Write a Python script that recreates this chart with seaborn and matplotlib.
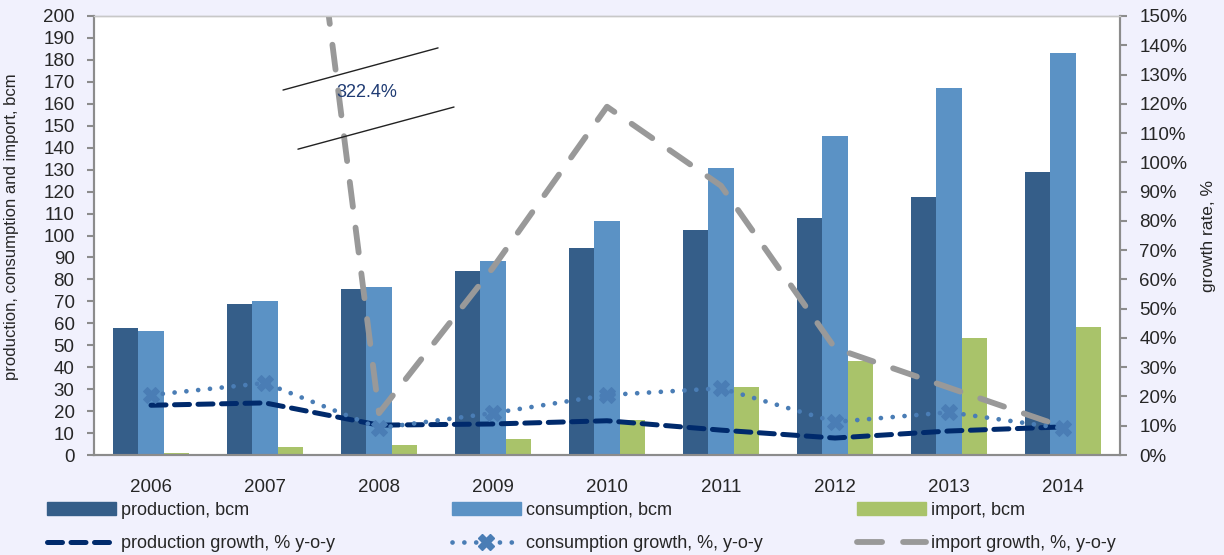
#!/usr/bin/env python3
"""Gas production, consumption and import with y-o-y growth rates, 2006-2014."""
import numpy as np
import pandas as pd
import matplotlib; matplotlib.use('Agg')
import matplotlib.pyplot as plt
from matplotlib.lines import Line2D
from matplotlib.patches import Patch
import seaborn as sns

years = ["2006", "2007", "2008", "2009", "2010", "2011", "2012", "2013", "2014"]
production = [58, 69, 75.5, 83.7, 94.2, 102.5, 108, 117.7, 128.8]
consumption = [56.3, 70.3, 76.7, 88.4, 106.6, 130.9, 145.5, 167, 183]
imports = [0.8, 3.8, 4.4, 7.1, 15.9, 31.1, 42.7, 53.2, 58.2]
production_growth = [17, 17.8, 10.2, 10.6, 11.7, 8.5, 5.8, 8.2, 9.6]
consumption_growth = [20.5, 24.6, 9.2, 14.3, 20.5, 22.8, 11.3, 14.6, 9.1]
import_growth = [np.nan, 322.4, 14.3, 64, 119, 92, 36.5, 23, 9.6]

bar_names = ["production, bcm", "consumption, bcm", "import, bcm"]
line_names = ["production growth, % y-o-y", "consumption growth, %, y-o-y",
              "import growth, %, y-o-y"]

BG = "#F1F1FD"
C_PROD, C_CONS, C_IMP = "#355E89", "#5B92C5", "#A9C36A"
C_PG, C_CG, C_IG = "#002A6C", "#4A7DB5", "#999999"
AXIS = "#8C8C8C"
FS = 13.5

sns.set_style("white")
plt.rcParams["font.family"] = ["Liberation Sans Narrow", "Liberation Sans", "DejaVu Sans"]
plt.rcParams["font.size"] = FS

df = pd.DataFrame({"year": years * 3,
                   "value": production + consumption + imports,
                   "series": [n for n in bar_names for _ in years]})

fig = plt.figure(figsize=(12.24, 5.55), dpi=100, facecolor=BG)
ax = fig.add_axes([94 / 1224, 1 - 455 / 555, 1026 / 1224, 439 / 555])
ax.set_facecolor("white")

sns.barplot(data=df, x="year", y="value", hue="series", hue_order=bar_names,
            palette=[C_PROD, C_CONS, C_IMP], width=0.667, gap=0, saturation=1,
            linewidth=0, legend=False, ax=ax)
ax.set_xlim(-0.5, len(years) - 0.5)
ax.set_ylim(0, 200)
ax.set_yticks(range(0, 201, 10))
ax.set_xlabel("")
ax.set_ylabel("production, consumption and import, bcm", fontsize=12)
ax.yaxis.set_label_coords(-0.073, 0.52)

# growth lines on the secondary axis
ax2 = ax.twinx()
pos = np.arange(len(years))
sns.lineplot(x=pos, y=import_growth, ax=ax2, color=C_IG, lw=4.2,
             linestyle=(0, (4.3, 3.6)), dash_capstyle="round")
sns.lineplot(x=pos, y=production_growth, ax=ax2, color=C_PG, lw=3.6,
             linestyle=(0, (3.0, 1.7)), dash_capstyle="round")
sns.lineplot(x=pos, y=consumption_growth, ax=ax2, color=C_CG, lw=3.4,
             linestyle=(0, (0.01, 2.5)), dash_capstyle="round",
             marker="X", markersize=11, markerfacecolor=C_CG, markeredgecolor=C_CG)
ax2.set_ylim(0, 150)
ax2.set_yticks(range(0, 151, 10))
ax2.set_yticklabels([f"{v}%" for v in range(0, 151, 10)])
ax2.set_ylabel("growth rate, %", fontsize=12.5)
ax2.yaxis.set_label_coords(1.079, 0.5)

# axis break marks for the off-scale 2007 import growth
ax2.plot([1.158, 2.518], [124.7, 139.1], color="#222222", lw=1)
ax2.plot([1.289, 2.658], [104.5, 118.9], color="#222222", lw=1)
ax2.text(1.895, 123.7, "322.4%", color="#1F3B73", fontsize=13, ha="center", va="center")

# x ticks: labels at centers, tick marks at category boundaries
ax.set_xticks(pos)
ax.set_xticklabels(years)
ax.set_xticks(np.arange(-0.5, len(years)), minor=True)
ax.tick_params(axis="x", which="major", length=0, pad=17, labelsize=FS)
ax.tick_params(axis="x", which="minor", length=5, width=1.5, color=AXIS, direction="out")
ax.tick_params(axis="y", length=5, width=1.5, color=AXIS, direction="out", pad=9,
               labelsize=FS, left=True)
ax2.tick_params(axis="y", length=5, width=1.5, color=AXIS, direction="out", pad=9,
                labelsize=FS, right=True)

for a in (ax, ax2):
    for side in ("left", "right", "bottom"):
        a.spines[side].set_color(AXIS)
        a.spines[side].set_linewidth(1.5)
    a.spines["top"].set_color("#C8C8C8")
    a.spines["top"].set_linewidth(1)

# legends: three columns of two rows each
handles = [
    [Patch(color=C_PROD), Line2D([], [], color=C_PG, lw=3.6, linestyle=(0, (3.0, 1.7)),
                                 dash_capstyle="round")],
    [Patch(color=C_CONS), Line2D([], [], color=C_CG, lw=3.4, linestyle=(0, (0.01, 2.5)),
                                 dash_capstyle="round", marker="X", markersize=11,
                                 markevery=[1], markerfacecolor=C_CG, markeredgecolor=C_CG)],
    [Patch(color=C_IMP), Line2D([], [], color=C_IG, lw=4.2, linestyle=(0, (4.3, 3.6)),
                                dash_capstyle="round")],
]
labels = [[bar_names[i], line_names[i]] for i in range(3)]
for i, xs in enumerate([47, 452, 857]):
    fig.legend(handles[i], labels[i], loc="upper left",
               bbox_to_anchor=(xs / 1224, 1 - 502 / 555), frameon=False,
               fontsize=13, handlelength=3.8, handletextpad=0.3,
               labelspacing=0.9, borderpad=0, borderaxespad=0)

fig.savefig("out.png", dpi=100, facecolor=BG)
plt.close()
